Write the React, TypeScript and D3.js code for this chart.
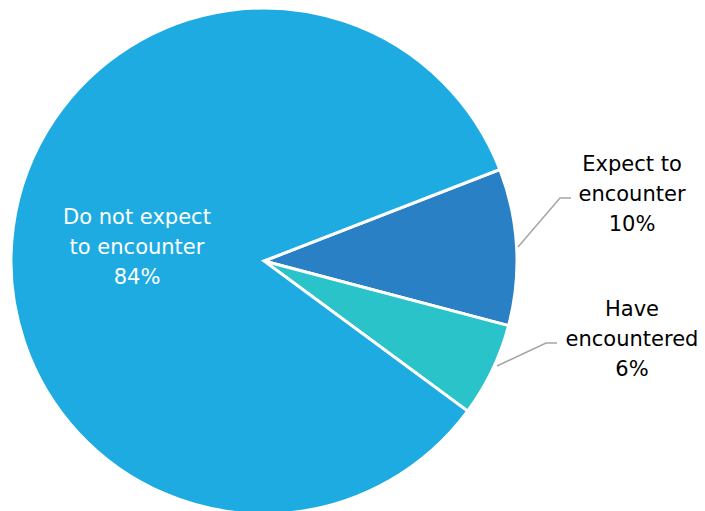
import React from "react";
import * as d3 from "d3";

const categories = ["Expect to encounter", "Have encountered", "Do not expect to encounter"];
const values = [10, 6, 84];
const labelLines = [["Expect to", "encounter", "10%"], ["Have", "encountered", "6%"], ["Do not expect", "to encounter", "84%"]];
const colors = ["#2980C5", "#2AC3C9", "#1EABE2"];

const W = 705, H = 511;
const cx = 264, cy = 261, R = 253;

export default function App() {
  const start = (68.8 * Math.PI) / 180;
  const pie = d3.pie<number>().sort(null).startAngle(start).endAngle(start + 2 * Math.PI);
  const arcs = pie(values);
  const arc = d3.arc<d3.PieArcDatum<number>>().innerRadius(0).outerRadius(R);
  const font = "'DejaVu Sans', sans-serif";
  const outside = [
    { tx: 632, ty: 171, line: [[518, 247], [560, 198], [571, 198]] },
    { tx: 632, ty: 316, line: [[497, 366], [546, 343], [557, 343]] },
  ];
  return (
    <svg width={W} height={H} style={{ position: "fixed", left: 0, top: 0, background: "#fff" }}>
      <g transform={`translate(${cx},${cy})`}>
        {arcs.map((a, i) => (
          <path key={categories[i]} d={arc(a) || ""} fill={colors[i]} stroke="#fff" strokeWidth={3} strokeLinejoin="miter" />
        ))}
      </g>
      {outside.map((o, i) => (
        <g key={i}>
          <polyline points={o.line.map((p) => p.join(",")).join(" ")} fill="none" stroke="#A6A6A6" strokeWidth={1.5} />
          {labelLines[i].map((t, j) => (
            <text key={j} x={o.tx} y={o.ty + j * 30} textAnchor="middle" fontFamily={font} fontSize={21} fill="#000">{t}</text>
          ))}
        </g>
      ))}
      {labelLines[2].map((t, j) => (
        <text key={j} x={137} y={224 + j * 30} textAnchor="middle" fontFamily={font} fontSize={21} fill="#fff">{t}</text>
      ))}
    </svg>
  );
}
